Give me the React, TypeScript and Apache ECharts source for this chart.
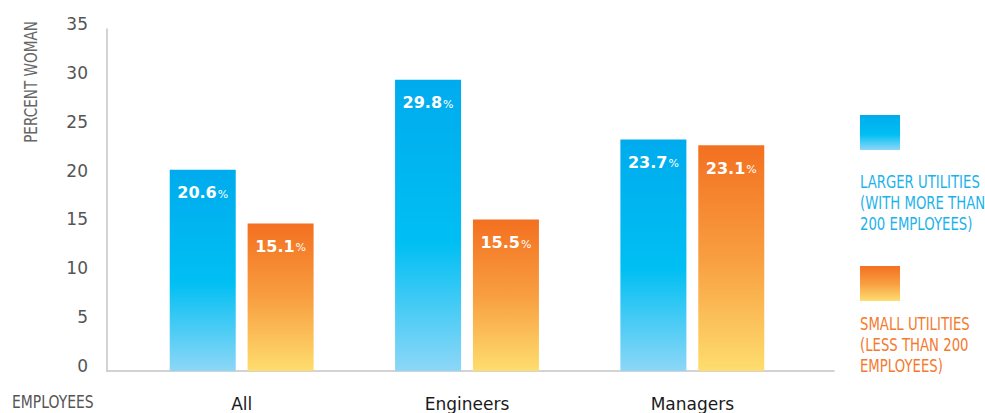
import React, { useEffect, useRef } from "react";
import * as echarts from "echarts";

const categories = ["All", "Engineers", "Managers"];
const largerValues = [20.6, 29.8, 23.7];
const smallValues = [15.1, 15.5, 23.1];
const yTicks = { min: 0, max: 35, interval: 5 };
const legendLarger = "LARGER UTILITIES\n(WITH MORE THAN\n200 EMPLOYEES)";
const legendSmall = "SMALL UTILITIES\n(LESS THAN 200\nEMPLOYEES)";
const yTitle = "PERCENT WOMAN";
const xTitle = "EMPLOYEES";

const FONT = "'DejaVu Sans', sans-serif";

const blueStops = [
  { offset: 0, color: "#00ABED" },
  { offset: 0.56, color: "#00BFF3" },
  { offset: 1, color: "#8DD7F7" },
];
const orangeStops = [
  { offset: 0, color: "#F37021" },
  { offset: 0.5, color: "#F89E40" },
  { offset: 1, color: "#FEDD6F" },
];

function grad(stops: { offset: number; color: string }[]) {
  return new echarts.graphic.LinearGradient(0, 0, 0, 1, stops);
}

export default function App() {
  const ref = useRef<HTMLDivElement>(null);
  useEffect(() => {
    if (!ref.current) return;
    const chart = echarts.init(ref.current, undefined, { renderer: "svg" });
    const labelCfg = {
      show: true,
      position: "insideTop",
      distance: 15,
      formatter: (p: any) => `{v|${p.value.toFixed(1)}}{p|%}`,
      rich: {
        v: { fontFamily: FONT, fontSize: 16, fontWeight: "bold", color: "#fff" },
        p: { fontFamily: FONT, fontSize: 11, color: "#fff", padding: [3, 0, 0, 1] },
      },
    };
    chart.setOption({
      animation: false,
      grid: [
        { left: 107, right: 151, top: 29, bottom: 42 },
        { left: 129, right: 180, top: 29, bottom: 42 },
      ],
      xAxis: [
        {
          type: "category",
          gridIndex: 0,
          data: [""],
          axisLine: { show: true, lineStyle: { color: "#c4c4c4", width: 1.5 } },
          axisTick: { show: false },
          axisLabel: { show: false },
        },
        {
          type: "category",
          gridIndex: 1,
          data: categories,
          axisLine: { show: false },
          axisTick: { show: false },
          axisLabel: { fontFamily: FONT, fontSize: 17, color: "#1a1a1a", margin: 24 },
        },
      ],
      yAxis: [
        {
          type: "value",
          gridIndex: 0,
          min: yTicks.min,
          max: yTicks.max,
          interval: yTicks.interval,
          axisLine: { show: true, lineStyle: { color: "#c4c4c4", width: 1.5 } },
          axisTick: { show: false },
          splitLine: { show: false },
          axisLabel: {
            fontFamily: FONT,
            fontSize: 17,
            color: "#555",
            margin: 19,
            verticalAlign: "bottom",
            lineHeight: 10,
          },
        },
        {
          type: "value",
          gridIndex: 1,
          min: yTicks.min,
          max: yTicks.max,
          interval: yTicks.interval,
          show: false,
          splitLine: { show: false },
        },
      ],
      series: [
        {
          type: "bar",
          name: "Larger",
          xAxisIndex: 1,
          yAxisIndex: 1,
          data: largerValues,
          barWidth: 66,
          barGap: "18%",
          itemStyle: { color: grad(blueStops) },
          label: labelCfg,
        },
        {
          type: "bar",
          name: "Small",
          xAxisIndex: 1,
          yAxisIndex: 1,
          data: smallValues,
          barWidth: 66,
          itemStyle: { color: grad(orangeStops) },
          label: labelCfg,
        },
      ],
      graphic: [
        {
          type: "text",
          x: 31,
          y: 82,
          rotation: Math.PI / 2,
          scaleX: 0.8,
          style: {
            text: yTitle,
            fontFamily: FONT,
            fontSize: 17,
            fill: "#666",
            align: "center",
            verticalAlign: "middle",
          },
        },
        {
          type: "text",
          x: 12,
          y: 403,
          scaleX: 0.82,
          style: {
            text: xTitle,
            fontFamily: FONT,
            fontSize: 17,
            fill: "#555",
            align: "left",
            verticalAlign: "middle",
          },
        },
        {
          type: "rect",
          shape: { x: 860, y: 115, width: 40, height: 35 },
          style: {
            fill: { type: "linear", x: 0, y: 0, x2: 0, y2: 1, colorStops: blueStops },
          },
        },
        {
          type: "text",
          x: 860,
          y: 172,
          scaleX: 0.78,
          style: {
            text: legendLarger,
            fontFamily: FONT,
            fontSize: 17,
            lineHeight: 21,
            fill: "#1CB2EA",
            align: "left",
            verticalAlign: "top",
          },
        },
        {
          type: "rect",
          shape: { x: 860, y: 266, width: 40, height: 35 },
          style: {
            fill: { type: "linear", x: 0, y: 0, x2: 0, y2: 1, colorStops: orangeStops },
          },
        },
        {
          type: "text",
          x: 860,
          y: 314,
          scaleX: 0.78,
          style: {
            text: legendSmall,
            fontFamily: FONT,
            fontSize: 17,
            lineHeight: 21,
            fill: "#F47A2E",
            align: "left",
            verticalAlign: "top",
          },
        },
      ],
    });
    return () => chart.dispose();
  }, []);
  return (
    <div
      ref={ref}
      style={{ position: "fixed", left: 0, top: 0, width: 985, height: 413, background: "#fff" }}
    />
  );
}
